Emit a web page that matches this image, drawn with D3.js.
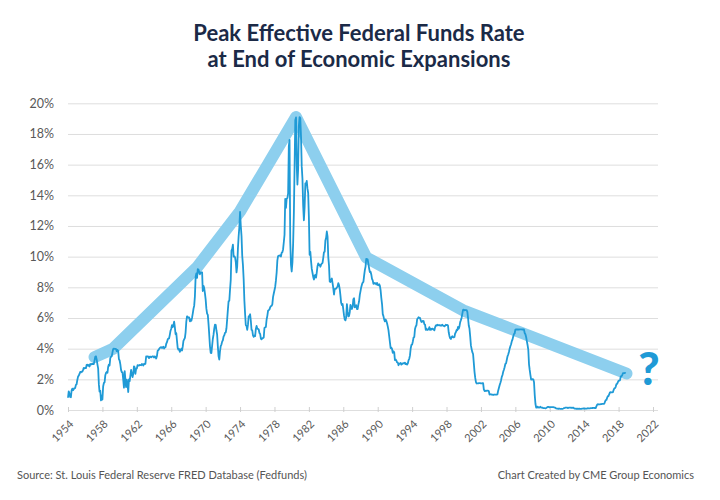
<!DOCTYPE html>
<html>
<head>
<meta charset="utf-8">
<script src="https://cdn.jsdelivr.net/npm/d3@7"></script>
<style>
  body { margin: 0; background: #fff; }
  svg { font-family: "Lato", "Open Sans", sans-serif; }
</style>
</head>
<body>
<script>
// Effective fed funds rate, monthly, starting July 1954
var startYear = 1954, startMonth = 6;
var rates = [
  0.80, 1.22, 1.07, 0.85, 0.83, 1.28,
  1.39, 1.29, 1.35, 1.43, 1.43, 1.64, 1.68, 1.96, 2.18, 2.24, 2.35, 2.48,
  2.45, 2.50, 2.50, 2.62, 2.75, 2.71, 2.75, 2.73, 2.95, 2.96, 2.88, 2.94,
  2.84, 3.00, 2.96, 3.00, 3.00, 3.00, 2.99, 3.24, 3.47, 3.50, 3.28, 2.98,
  2.72, 1.67, 1.20, 1.26, 0.63, 0.93, 0.68, 1.53, 1.76, 1.80, 2.27, 2.42,
  2.48, 2.43, 2.80, 2.96, 2.90, 3.39, 3.47, 3.50, 3.76, 3.98, 4.00, 3.99,
  3.99, 3.97, 3.84, 3.92, 3.85, 3.32, 3.23, 2.98, 2.60, 2.47, 2.44, 1.98,
  1.45, 2.54, 2.02, 1.49, 1.98, 1.73, 1.17, 2.00, 1.88, 2.26, 2.61, 2.33,
  2.15, 2.37, 2.85, 2.78, 2.36, 2.68, 2.71, 2.93, 2.90, 2.90, 2.94, 2.93,
  2.92, 3.00, 2.98, 2.90, 3.00, 2.99, 3.02, 3.49, 3.48, 3.50, 3.48, 3.38,
  3.48, 3.48, 3.43, 3.47, 3.50, 3.50, 3.42, 3.50, 3.45, 3.36, 3.52, 3.85,
  3.90, 3.98, 4.04, 4.09, 4.10, 4.04, 4.09, 4.12, 4.01, 4.08, 4.10, 4.32,
  4.42, 4.60, 4.65, 4.67, 4.90, 5.17, 5.30, 5.53, 5.40, 5.53, 5.76, 5.40,
  4.94, 5.00, 4.53, 4.05, 3.94, 3.98, 3.79, 3.90, 3.99, 3.88, 4.13, 4.51,
  4.61, 4.71, 5.05, 5.76, 6.11, 6.07, 6.02, 6.03, 5.78, 5.91, 5.82, 6.02,
  6.30, 6.61, 6.79, 7.41, 8.67, 8.90, 8.61, 9.19, 9.15, 9.00, 8.85, 8.97,
  8.98, 8.98, 7.76, 8.10, 7.95, 7.61, 7.21, 6.61, 6.29, 6.20, 5.60, 4.90,
  4.14, 3.72, 3.71, 4.16, 4.63, 4.91, 5.31, 5.56, 5.55, 5.20, 4.91, 4.14,
  3.50, 3.29, 3.83, 4.17, 4.27, 4.46, 4.55, 4.80, 4.87, 5.04, 5.06, 5.33,
  5.94, 6.58, 7.09, 7.12, 7.84, 8.49, 10.40, 10.50, 10.78, 10.01, 10.03, 9.95,
  9.65, 8.97, 9.35, 10.51, 11.31, 11.93, 12.92, 12.01, 11.34, 10.06, 9.45, 8.53,
  7.13, 6.24, 5.54, 5.49, 5.22, 5.55, 6.10, 6.14, 6.24, 5.82, 5.22, 5.20,
  4.87, 4.77, 4.84, 4.82, 5.29, 5.48, 5.31, 5.29, 5.25, 5.02, 4.95, 4.65,
  4.61, 4.68, 4.69, 4.73, 5.35, 5.39, 5.42, 5.90, 6.14, 6.47, 6.51, 6.56,
  6.70, 6.78, 6.79, 6.89, 7.36, 7.60, 7.81, 8.04, 8.45, 8.96, 9.76, 10.03,
  10.07, 10.06, 10.09, 10.01, 10.24, 10.29, 10.47, 10.94, 11.43, 13.77, 13.18, 13.78,
  13.82, 14.13, 17.19, 17.61, 10.98, 9.47, 9.03, 9.61, 10.87, 12.81, 15.85, 18.90,
  19.08, 15.93, 14.70, 15.72, 18.52, 19.10, 19.04, 17.82, 15.87, 15.08, 13.31, 12.37,
  13.22, 14.78, 14.68, 14.94, 14.45, 14.15, 12.59, 10.12, 10.31, 9.71, 9.20, 8.95,
  8.68, 8.51, 8.77, 8.80, 8.63, 8.98, 9.37, 9.56, 9.45, 9.48, 9.34, 9.47,
  9.56, 9.59, 9.91, 10.29, 10.32, 11.06, 11.23, 11.64, 11.30, 9.99, 9.43, 8.38,
  8.35, 8.50, 8.58, 8.27, 7.97, 7.53, 7.88, 7.90, 7.92, 7.99, 8.05, 8.27,
  8.14, 7.86, 7.48, 6.99, 6.85, 6.92, 6.56, 6.17, 5.89, 5.85, 6.04, 6.91,
  6.43, 6.10, 6.13, 6.37, 6.85, 6.73, 6.58, 6.73, 7.22, 7.29, 6.69, 6.77,
  6.83, 6.58, 6.58, 6.87, 7.09, 7.51, 7.75, 8.01, 8.19, 8.30, 8.35, 8.76,
  9.12, 9.36, 9.85, 9.84, 9.81, 9.53, 9.24, 8.99, 9.02, 8.84, 8.55, 8.45,
  8.23, 8.24, 8.28, 8.26, 8.18, 8.29, 8.15, 8.13, 8.20, 8.11, 7.81, 7.31,
  6.91, 6.25, 6.12, 5.91, 5.78, 5.90, 5.82, 5.66, 5.45, 5.21, 4.81, 4.43,
  4.03, 4.06, 3.98, 3.73, 3.82, 3.76, 3.25, 3.30, 3.22, 3.10, 3.09, 2.92,
  3.02, 3.03, 3.07, 2.96, 3.00, 3.04, 3.06, 3.03, 3.09, 2.99, 3.02, 2.96,
  3.05, 3.25, 3.34, 3.56, 4.01, 4.25, 4.26, 4.47, 4.73, 4.76, 5.29, 5.45,
  5.53, 5.92, 5.98, 6.05, 6.01, 6.00, 5.85, 5.74, 5.80, 5.76, 5.80, 5.60,
  5.56, 5.22, 5.31, 5.22, 5.24, 5.27, 5.40, 5.22, 5.30, 5.24, 5.31, 5.29,
  5.25, 5.19, 5.39, 5.51, 5.50, 5.56, 5.52, 5.54, 5.54, 5.50, 5.52, 5.50,
  5.56, 5.51, 5.49, 5.45, 5.49, 5.56, 5.54, 5.55, 5.51, 5.07, 4.83, 4.68,
  4.63, 4.76, 4.81, 4.74, 4.74, 4.76, 4.99, 5.07, 5.22, 5.20, 5.42, 5.30,
  5.45, 5.73, 5.85, 6.02, 6.27, 6.53, 6.54, 6.50, 6.52, 6.51, 6.51, 6.40,
  5.98, 5.49, 5.31, 4.80, 4.21, 3.97, 3.77, 3.65, 3.07, 2.49, 2.09, 1.82,
  1.73, 1.74, 1.73, 1.75, 1.75, 1.75, 1.73, 1.74, 1.75, 1.75, 1.34, 1.24,
  1.24, 1.26, 1.25, 1.26, 1.26, 1.22, 1.01, 1.03, 1.01, 1.01, 1.00, 0.98,
  1.00, 1.01, 1.00, 1.00, 1.00, 1.03, 1.26, 1.43, 1.61, 1.76, 1.93, 2.16,
  2.28, 2.50, 2.63, 2.79, 3.00, 3.04, 3.26, 3.50, 3.62, 3.78, 4.00, 4.16,
  4.29, 4.49, 4.59, 4.79, 4.94, 4.99, 5.24, 5.25, 5.25, 5.25, 5.25, 5.24,
  5.25, 5.26, 5.26, 5.25, 5.25, 5.25, 5.26, 5.02, 4.94, 4.76, 4.49, 4.24,
  3.94, 2.98, 2.61, 2.28, 1.98, 2.00, 2.01, 2.00, 1.81, 0.97, 0.39, 0.16,
  0.15, 0.22, 0.18, 0.15, 0.18, 0.21, 0.16, 0.16, 0.15, 0.12, 0.12, 0.12,
  0.11, 0.13, 0.16, 0.20, 0.20, 0.18, 0.18, 0.19, 0.19, 0.19, 0.19, 0.18,
  0.17, 0.16, 0.14, 0.10, 0.09, 0.09, 0.07, 0.10, 0.08, 0.07, 0.08, 0.07,
  0.08, 0.10, 0.13, 0.14, 0.16, 0.16, 0.16, 0.13, 0.14, 0.16, 0.16, 0.16,
  0.14, 0.15, 0.14, 0.15, 0.11, 0.09, 0.09, 0.08, 0.08, 0.09, 0.08, 0.09,
  0.07, 0.07, 0.08, 0.09, 0.09, 0.10, 0.09, 0.09, 0.09, 0.09, 0.09, 0.12,
  0.11, 0.11, 0.11, 0.12, 0.12, 0.13, 0.13, 0.14, 0.14, 0.12, 0.12, 0.24,
  0.34, 0.38, 0.36, 0.37, 0.37, 0.38, 0.39, 0.40, 0.40, 0.40, 0.41, 0.54,
  0.65, 0.66, 0.79, 0.90, 0.91, 1.04, 1.15, 1.16, 1.15, 1.15, 1.16, 1.30,
  1.41, 1.42, 1.51, 1.69, 1.70, 1.82, 1.91, 1.91, 1.95, 2.19, 2.20, 2.27,
  2.40, 2.40, 2.41, 2.42, 2.39
];

// peaks at the end of each expansion (the thick band)
var peakDates = ["1957-08", "1959-10", "1969-07", "1974-07", "1981-01", "1989-03", "2000-06", "2006-09", "2019-06"];
var peakRates = [3.45, 4.0, 9.3, 12.95, 19.1, 9.95, 6.5, 5.15, 2.38];

var yTicks = [0, 2, 4, 6, 8, 10, 12, 14, 16, 18, 20];
var xTickYears = d3.range(1954, 2023, 4);

var title = ["Peak Effective Federal Funds Rate", "at End of Economic Expansions"];
var sourceNote = "Source: St. Louis Federal Reserve FRED Database (Fedfunds)";
var creditNote = "Chart Created by CME Group Economics";

var W = 720, H = 500;
var svg = d3.select("body").append("svg")
  .attr("width", W)
  .attr("height", H);

var x = d3.scaleTime()
  .domain([new Date(1954, 6, 1), new Date(2022, 6, 1)])
  .range([68, 653]);
var y = d3.scaleLinear().domain([0, 20]).range([410, 103.3]);

// title
svg.append("g").selectAll("text")
  .data(title).join("text")
  .attr("x", 359)
  .attr("y", function (d, i) { return 41 + i * 26; })
  .attr("text-anchor", "middle")
  .attr("font-size", 22)
  .attr("font-weight", 700)
  .attr("fill", "#1b2a47")
  .text(function (d) { return d; });

// gridlines + y labels
var yAxis = svg.append("g")
  .attr("transform", "translate(68,0)")
  .call(d3.axisLeft(y).tickValues(yTicks).tickSize(-590).tickPadding(14)
    .tickFormat(function (d) { return d + "%"; }));
yAxis.select(".domain").remove();
yAxis.selectAll(".tick line").attr("stroke", "#dedede");
yAxis.selectAll(".tick text")
  .attr("fill", "#595959")
  .attr("font-size", 12.5)
  .attr("font-family", "Lato, sans-serif");

// x axis
var xAxis = svg.append("g")
  .attr("transform", "translate(0,410)")
  .call(d3.axisBottom(x)
    .tickValues(xTickYears.map(function (yr) { return new Date(yr, 6, 1); }))
    .tickFormat(d3.timeFormat("%Y"))
    .tickSizeInner(3).tickSizeOuter(0));
xAxis.select(".domain").attr("stroke", "#dedede").attr("d", "M68,0.5H658");
xAxis.selectAll(".tick line").attr("stroke", "#cfcfcf").attr("y1", -3).attr("y2", 2);
xAxis.selectAll(".tick text")
  .attr("fill", "#595959")
  .attr("font-size", 11)
  .attr("font-family", "Lato, sans-serif")
  .attr("text-anchor", "end")
  .attr("transform", "translate(3,12) rotate(-45)")
  .attr("dy", "0.35em")
  .attr("y", 0)
  .attr("x", 0);

var parseMonth = d3.timeParse("%Y-%m");

// thick band over peaks
var band = peakDates.map(function (d, i) { return { date: parseMonth(d), v: peakRates[i] }; });
svg.append("path")
  .datum(band)
  .attr("fill", "none")
  .attr("stroke", "#8dcfee")
  .attr("stroke-width", 12)
  .attr("stroke-linejoin", "round")
  .attr("stroke-linecap", "round")
  .attr("d", d3.line()
    .x(function (d) { return x(d.date); })
    .y(function (d) { return y(d.v); }));

// monthly rate line
var series = rates.map(function (v, i) {
  return { date: new Date(startYear, startMonth + i, 1), v: v };
});
svg.append("path")
  .datum(series)
  .attr("fill", "none")
  .attr("stroke", "#1f9ad6")
  .attr("stroke-width", 1.8)
  .attr("stroke-linejoin", "round")
  .attr("d", d3.line()
    .x(function (d) { return x(d.date); })
    .y(function (d) { return y(d.v); }));

// question mark
svg.append("text")
  .attr("x", 649)
  .attr("y", 385)
  .attr("text-anchor", "middle")
  .attr("font-size", 46)
  .attr("font-weight", 900)
  .attr("font-family", "Lato, sans-serif")
  .attr("fill", "#1f9ad6")
  .text("?");

// footer
svg.append("text")
  .attr("x", 17).attr("y", 479)
  .attr("font-size", 11).attr("fill", "#555")
  .text(sourceNote);
svg.append("text")
  .attr("x", 694).attr("y", 479)
  .attr("text-anchor", "end")
  .attr("font-size", 11).attr("fill", "#555")
  .text(creditNote);
</script>
</body>
</html>
